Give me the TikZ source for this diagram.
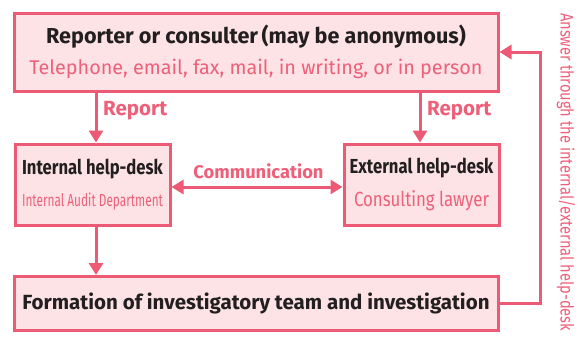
\documentclass[tikz,border=0pt]{standalone}
\usepackage{fontspec}
\setmainfont{Fira Sans}
\newfontfamily\cond[FakeStretch=0.82]{Fira Sans}
\newfontfamily\condb[FakeStretch=0.68]{Fira Sans}
\usetikzlibrary{arrows.meta}
\definecolor{bord}{RGB}{236,90,117}
\definecolor{boxfill}{RGB}{253,227,229}
\definecolor{pinktxt}{RGB}{238,96,122}
\definecolor{darktxt}{RGB}{35,31,32}
\tikzset{
  box/.style={draw=bord, fill=boxfill, line width=3pt, inner sep=0pt, align=center, text=darktxt},
  conn/.style={draw=bord, line width=3pt, -{Triangle[length=12pt,width=14pt]}},
  dconn/.style={draw=bord, line width=3pt, {Triangle[length=12pt,width=14pt]}-{Triangle[length=12pt,width=14pt]}},
  lbl/.style={text=pinktxt, font=\fontsize{20.5}{24}\selectfont\bfseries, inner sep=0pt},
}
\begin{document}
\begin{tikzpicture}[x=1pt,y=-1pt]
\useasboundingbox (0,0) rectangle (583,338);
\node[box, minimum width=484pt, minimum height=78pt] (top) at (256,52)
  {{\fontsize{21.6}{24}\selectfont\bfseries Reporter or consulter\,(may be anonymous)}\\[10pt]
   {\fontsize{19.8}{22}\selectfont\color{pinktxt} Telephone, email, fax, mail, in writing, or in person}};
\node[box, minimum width=155pt, minimum height=81pt] (int) at (92.5,184.5)
  {{\cond\fontsize{20.3}{22}\selectfont\bfseries Internal help-desk}\\[13pt]
   {\condb\fontsize{17.4}{20}\selectfont\color{pinktxt} Internal Audit Department}};
\node[box, minimum width=155pt, minimum height=81pt] (ext) at (421.5,184.5)
  {{\cond\fontsize{20.3}{22}\selectfont\bfseries External help-desk}\\[11pt]
   {\cond\fontsize{20.5}{22}\selectfont\color{pinktxt} Consulting lawyer}};
\node[box, minimum width=484pt, minimum height=54pt] (bot) at (256,303.5)
  {\fontsize{20.5}{22}\selectfont\bfseries Formation of investigatory team and investigation};
\coordinate (xl) at (96,0);
\coordinate (xr) at (420,0);
\coordinate (xret) at (540,0);
\coordinate (yret) at (0,52);
\draw[conn] (top.south -| xl) -- (int.north -| xl);
\draw[conn] (top.south -| xr) -- (ext.north -| xr);
\draw[conn] (int.south -| xl) -- (bot.north -| xl);
\draw[dconn] (int.east |- 0,187) -- (ext.west |- 0,187);
\draw[conn] (bot.east) -| (xret |- yret) -- (top.east |- yret);
\node[lbl, anchor=west] (rl) at (103,111) {Report};
\node[lbl, anchor=west] (rr) at (427,111) {Report};
\node[lbl, font=\fontsize{18.3}{22}\selectfont\bfseries] (com) at (258.5,171) {Communication};
\node[text=pinktxt, rotate=-90, inner sep=0pt, anchor=west] (ans) at (566,13)
  {\cond\fontsize{17.9}{20}\selectfont Answer through the internal/external help-desk};
\end{tikzpicture}
\end{document}
